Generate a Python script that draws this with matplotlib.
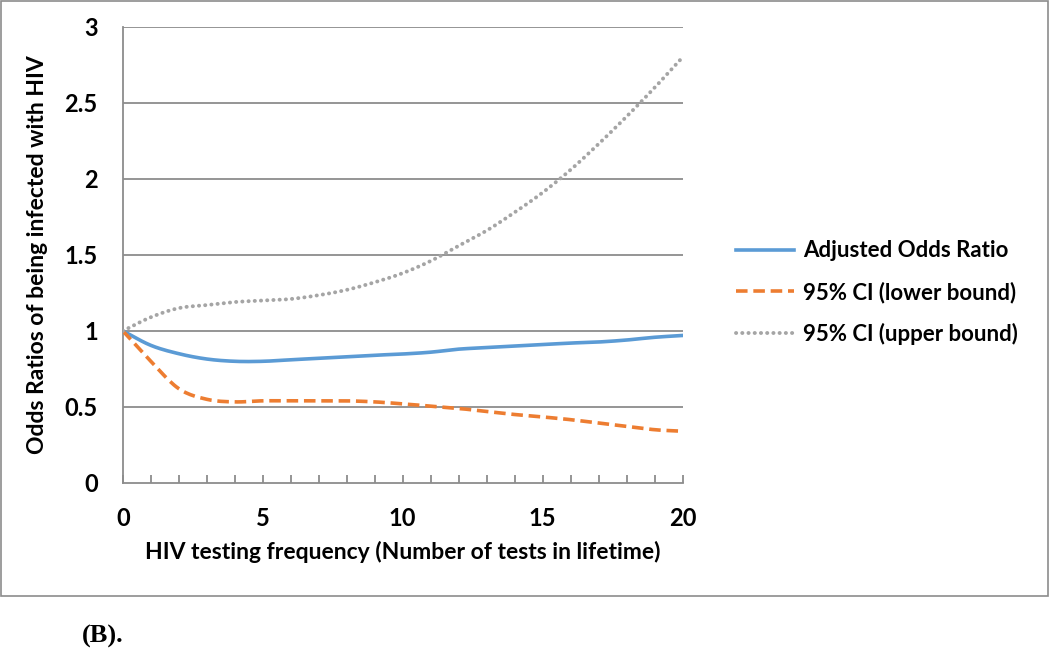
import numpy as np
import matplotlib.pyplot as plt
from matplotlib.patches import Rectangle

# data (odds ratios by number of lifetime tests)
tests = list(range(0, 21))
adjusted_or = [1.00, 0.905, 0.85, 0.815, 0.80, 0.80, 0.81, 0.82, 0.83, 0.84, 0.848,
               0.86, 0.88, 0.89, 0.90, 0.91, 0.92, 0.927, 0.94, 0.958, 0.97]
ci_lower = [1.00, 0.80, 0.62, 0.55, 0.533, 0.54, 0.54, 0.54, 0.54, 0.533, 0.52,
            0.505, 0.49, 0.47, 0.45, 0.434, 0.416, 0.394, 0.372, 0.35, 0.34]
ci_upper = [1.00, 1.09, 1.15, 1.17, 1.19, 1.20, 1.21, 1.235, 1.27, 1.32, 1.38,
            1.46, 1.56, 1.66, 1.78, 1.91, 2.06, 2.23, 2.41, 2.60, 2.80]
series_names = ['Adjusted Odds Ratio', '95% CI (lower bound)', '95% CI (upper bound)']
y_ticks = [0, 0.5, 1, 1.5, 2, 2.5, 3]
y_ticklabels = ['0', '0.5', '1', '1.5', '2', '2.5', '3']


def smooth(x, y, n=12):
    """Catmull-Rom curve through the points, like Excel's smoothed line"""
    x = np.asarray(x, float)
    y = np.asarray(y, float)
    px = np.concatenate([[2 * x[0] - x[1]], x, [2 * x[-1] - x[-2]]])
    py = np.concatenate([[2 * y[0] - y[1]], y, [2 * y[-1] - y[-2]]])
    xs, ys = [], []
    t = np.linspace(0, 1, n, endpoint=False)
    for i in range(1, len(px) - 2):
        for p, out in ((px, xs), (py, ys)):
            p0, p1, p2, p3 = p[i - 1], p[i], p[i + 1], p[i + 2]
            out.extend(0.5 * ((2 * p1) + (-p0 + p2) * t
                              + (2 * p0 - 5 * p1 + 4 * p2 - p3) * t ** 2
                              + (-p0 + 3 * p1 - 3 * p2 + p3) * t ** 3))
    xs.append(x[-1])
    ys.append(y[-1])
    return np.array(xs), np.array(ys)


plt.rcParams['font.family'] = ['Lato', 'DejaVu Sans']
plt.rcParams['font.weight'] = 'bold'

fig = plt.figure(figsize=(10.5, 6.57), dpi=100)
ax = fig.add_axes([0.117, 0.265, 0.533, 0.694])

grid_col = '#8c8c8c'
for yv in y_ticks[1:]:
    ax.axhline(yv, color=grid_col, lw=1.3, zorder=1)

styles = [
    dict(color='#5B9BD5', ls='-', lw=2.6),
    dict(color='#ED7D31', ls=(0, (3.2, 1.6)), lw=2.6),
    dict(color='#A5A5A5', ls=(0, (0.05, 1.55)), lw=2.8, dash_capstyle='round'),
]
for vals, name, st in zip([adjusted_or, ci_lower, ci_upper], series_names, styles):
    sx, sy = smooth(tests, vals)
    ax.plot(sx, sy, label=name, zorder=3, **st)

ax.set_xlim(0, 20)
ax.set_ylim(0, 3)
ax.set_xticks(tests)
ax.set_xticklabels([str(t) if t % 5 == 0 else '' for t in tests])
ax.set_yticks(y_ticks)
ax.set_yticklabels(y_ticklabels)
ax.tick_params(axis='x', direction='in', length=6, width=1.3, color=grid_col,
               labelsize=17, pad=17)
ax.tick_params(axis='y', length=0, labelsize=17, pad=18)
for s in ['top', 'right']:
    ax.spines[s].set_visible(False)
for s in ['left', 'bottom']:
    ax.spines[s].set_color(grid_col)
    ax.spines[s].set_linewidth(1.3)

ax.set_xlabel('HIV testing frequency (Number of tests in lifetime)',
              fontsize=16.5, fontweight='bold', labelpad=8)
ax.set_ylabel('Odds Ratios of being infected with HIV',
              fontsize=16.5, fontweight='bold', labelpad=12)

ax.legend(loc='center left', bbox_to_anchor=(1.06, 0.417), frameon=False,
          fontsize=16, handlelength=2.6, handletextpad=0.4, labelspacing=0.9)

# grey frame around the chart area
fig.patches.append(Rectangle((0.001, 0.093), 0.997, 0.905, transform=fig.transFigure,
                             fill=False, edgecolor='#8c8c8c', lw=1.2))

fig.text(0.078, 0.022, '(B).', fontsize=19, fontweight='bold',
         family=['Liberation Serif', 'DejaVu Serif'])

fig.savefig('out.png', dpi=100)
